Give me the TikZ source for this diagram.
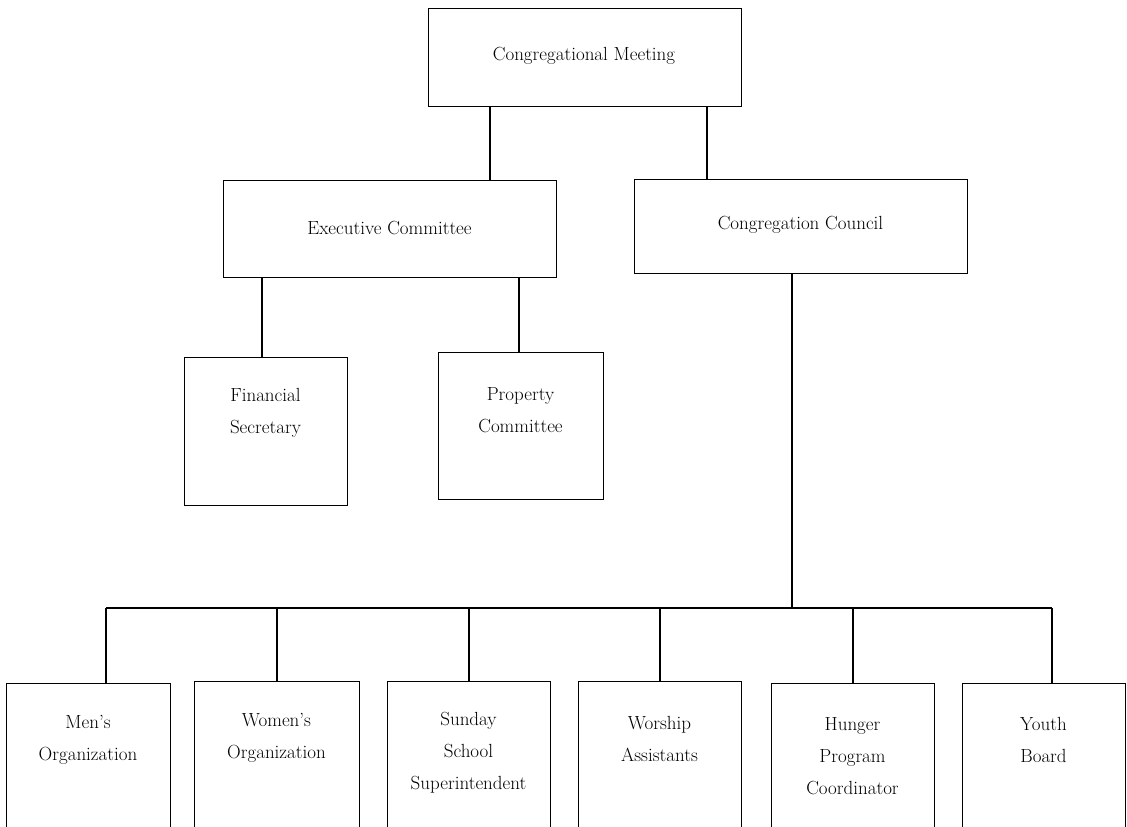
\documentclass[tikz,border=0pt]{standalone}
\begin{document}
\begin{tikzpicture}[x=1pt,y=-1pt,
  box/.style={draw, line width=1.3pt, inner sep=0pt, anchor=north west},
  lbl/.style={align=center, font=\fontsize{19}{32}\selectfont, inner sep=0pt},
  conn/.style={line width=2.6pt}]
\useasboundingbox (0,0) rectangle (1127,827);
\clip (0,0) rectangle (1127,827);
% boxes
\node[box, minimum width=313pt, minimum height=98pt] (cm) at (428,8) {};
\node[lbl] (cmT) at (584,56) {Congregational Meeting};
\node[box, minimum width=333pt, minimum height=97pt] (ec) at (223,180) {};
\node[lbl] (ecT) at (389.5,228) {Executive Committee};
\node[box, minimum width=333pt, minimum height=94pt] (cc) at (634,179) {};
\node[lbl] (ccT) at (800.5,225) {Congregation Council};
\node[box, minimum width=163pt, minimum height=148pt] (fs) at (184,357) {};
\node[lbl] (fsT) at (265.5,413) {Financial\\Secretary};
\node[box, minimum width=165pt, minimum height=147pt] (pc) at (438,352) {};
\node[lbl] (pcT) at (520.5,410) {Property\\Committee};
% bottom row
\node[box, minimum width=164pt, minimum height=170pt] (men) at (6,683) {};
\node[lbl] (menT) at (88,740) {Men's\\Organization};
\node[box, minimum width=165pt, minimum height=170pt] (women) at (194,681) {};
\node[lbl] (womenT) at (276.5,738) {Women's\\Organization};
\node[box, minimum width=163pt, minimum height=170pt] (sun) at (387,681) {};
\node[lbl] (sunT) at (468.5,753) {Sunday\\School\\Superintendent};
\node[box, minimum width=163pt, minimum height=170pt] (wor) at (578,681) {};
\node[lbl] (worT) at (659.5,739) {Worship\\Assistants};
\node[box, minimum width=163pt, minimum height=170pt] (hun) at (771,683) {};
\node[lbl] (hunT) at (852.5,756) {Hunger\\Program\\Coordinator};
\node[box, minimum width=163pt, minimum height=170pt] (you) at (962,683) {};
\node[lbl] (youT) at (1043.5,740) {Youth\\Board};
% connectors
\draw[conn] ([xshift=62pt]cm.south west) -- ([xshift=62pt]cm.south west |- ec.north);
\draw[conn] ([xshift=279pt]cm.south west) -- ([xshift=279pt]cm.south west |- cc.north);
\draw[conn] ([xshift=39pt]ec.south west) -- ([xshift=39pt]ec.south west |- fs.north);
\draw[conn] ([xshift=296pt]ec.south west) -- ([xshift=296pt]ec.south west |- pc.north);
\coordinate (busL) at (106,608);
\coordinate (busR) at (1052,608);
\draw[conn] ([xshift=158pt]cc.south west) -- ([xshift=158pt]cc.south west |- busL);
\draw[conn] (busL) -- (busR);
\draw[conn] (busL) -- (busL |- men.north);
\draw[conn] (women.north |- busL) -- (women.north);
\draw[conn] (sun.north |- busL) -- (sun.north);
\draw[conn] (wor.north |- busL) -- (wor.north);
\draw[conn] (hun.north |- busL) -- (hun.north);
\draw[conn] (busR) -- (busR |- you.north);
\end{tikzpicture}
\end{document}
